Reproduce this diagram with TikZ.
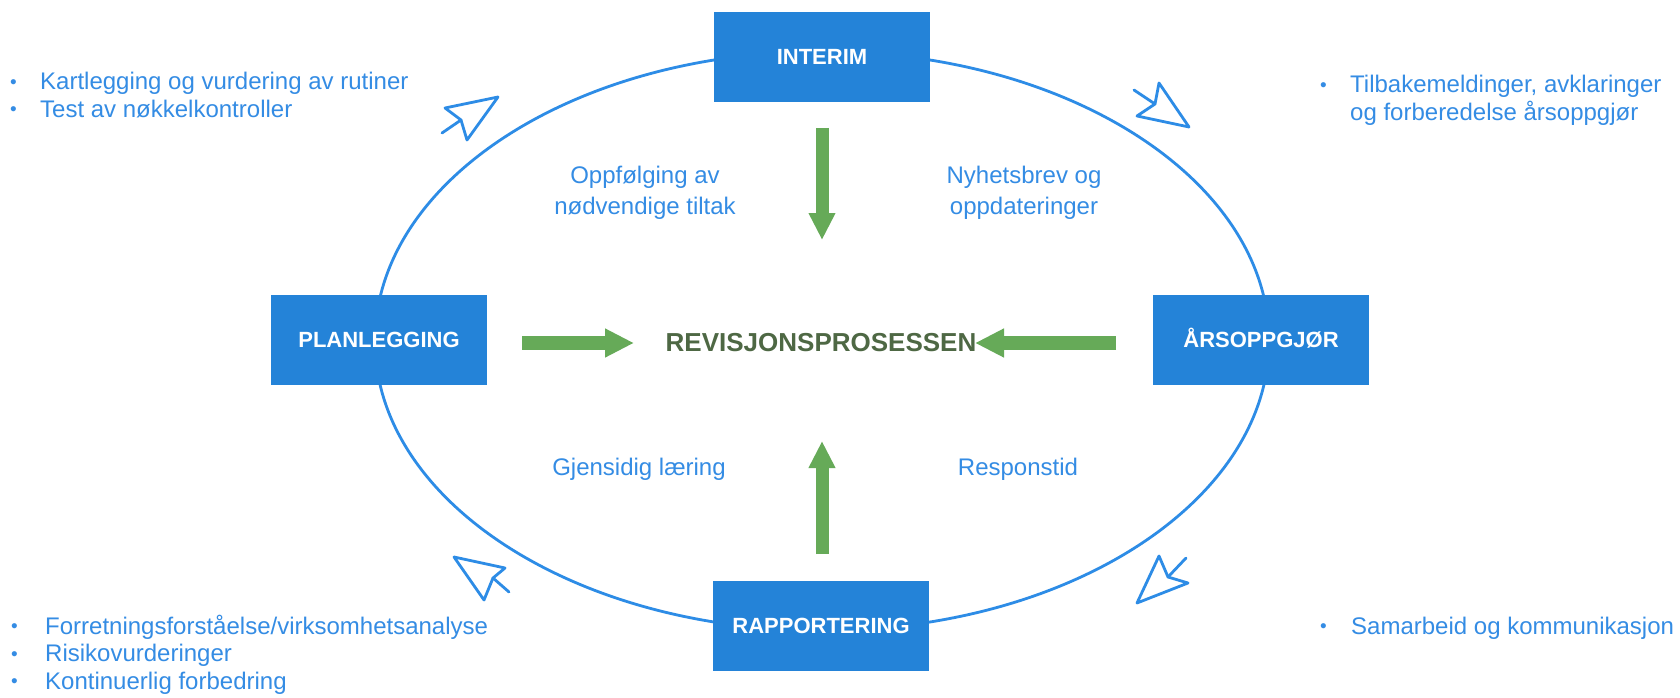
\documentclass[tikz,border=0pt]{standalone}
\usepackage{fontspec}
\setmainfont{Liberation Sans}
\usetikzlibrary{arrows.meta}
\definecolor{boxblue}{RGB}{36,131,216}
\definecolor{txtblue}{RGB}{52,140,228}
\definecolor{lineblue}{RGB}{45,140,230}
\definecolor{arrgreen}{RGB}{102,170,88}
\definecolor{centertxt}{RGB}{78,104,68}
\begin{document}
\begin{tikzpicture}[x=1pt,y=-1pt,
  phase/.style={fill=boxblue, text=white, minimum width=216pt, minimum height=90pt, inner sep=0pt,
    font=\fontsize{22}{26}\selectfont\bfseries, text height=15.8pt, text depth=0pt},
  lbl/.style={text=txtblue, font=\fontsize{24}{31}\selectfont, align=center, inner sep=0pt},
  bul/.style={text=txtblue, font=\fontsize{24}{27.5}\selectfont, anchor=base west, inner sep=0pt},
  flow/.style={draw=arrgreen, line width=13pt, -{Triangle[length=27pt,width=25pt]}},
  hflow/.style={draw=arrgreen, line width=14pt, -{Triangle[length=29pt,width=27pt]}},
  hint/.style={draw=lineblue, line width=2.8pt, line join=round, line cap=round}
]
\useasboundingbox (0,0) rectangle (1680,698);
\fill[white] (0,0) rectangle (1680,698);

% cycle ellipse
\draw[lineblue, line width=2.8pt] (822,341) ellipse [x radius=447pt, y radius=289.5pt];

% phase boxes
\node[phase] (interim) at (822,57) {INTERIM};
\node[phase] (plan) at (379,340) {PLANLEGGING};
\node[phase] (aars) at (1261,340) {ÅRSOPPGJØR};
\node[phase] (rapp) at (821,626) {RAPPORTERING};

% centre
\node[text=centertxt, font=\fontsize{26}{30}\selectfont\bfseries, inner sep=0pt] (rev) at (821,343) {REVISJONSPROSESSEN};

% green arrows
\coordinate (dA) at (822,128);
\coordinate (dB) at (822,240);
\coordinate (uA) at (822,554);
\coordinate (uB) at (822,441);
\coordinate (lA) at (522,343);
\coordinate (lB) at (634,343);
\coordinate (rA) at (1116,343);
\coordinate (rB) at (975,343);
\draw[flow] (dA) -- (dB);
\draw[flow] (uA) -- (uB);
\draw[hflow] (lA) -- (lB);
\draw[hflow] (rA) -- (rB);

% inner labels
\node[lbl] (opp) at (645,193) {Oppfølging av\\nødvendige tiltak};
\node[lbl] (nyh) at (1024,193) {Nyhetsbrev og\\oppdateringer};
\node[lbl] (gje) at (639,469) {Gjensidig læring};
\node[lbl] (res) at (1018,469) {Responstid};

% open hint arrows
\coordinate (tlT) at (442,133); \coordinate (tlN) at (461,120);
\coordinate (tlA) at (445,108); \coordinate (tlP) at (498,97); \coordinate (tlB) at (467,140);
\draw[hint] (tlT) -- (tlN);
\draw[hint] (tlN) -- (tlA) -- (tlP) -- (tlB) -- cycle;

\coordinate (trT) at (1134,90); \coordinate (trN) at (1155,104);
\coordinate (trA) at (1159,83); \coordinate (trP) at (1189,127); \coordinate (trB) at (1137,116);
\draw[hint] (trT) -- (trN);
\draw[hint] (trN) -- (trA) -- (trP) -- (trB) -- cycle;

\coordinate (blT) at (509,592); \coordinate (blN) at (493,578);
\coordinate (blA) at (505,568); \coordinate (blP) at (454,557); \coordinate (blB) at (484,600);
\draw[hint] (blT) -- (blN);
\draw[hint] (blN) -- (blA) -- (blP) -- (blB) -- cycle;

\coordinate (brT) at (1186,558); \coordinate (brN) at (1168,577);
\coordinate (brA) at (1159,556); \coordinate (brP) at (1137,603); \coordinate (brB) at (1188,583);
\draw[hint] (brT) -- (brN);
\draw[hint] (brN) -- (brA) -- (brP) -- (brB) -- cycle;

% bullet lists
\newcommand{\bdot}{\raisebox{1.5pt}{\fontsize{19}{19}\selectfont\textbullet}}
\node[bul] (tl) at (10,90) {\begin{tabular}[t]{@{}p{30pt}@{}l@{}}\bdot & Kartlegging og vurdering av rutiner\\ \bdot & Test av nøkkelkontroller\end{tabular}};
\node[bul] (tr) at (1320,93) {\begin{tabular}[t]{@{}p{30pt}@{}l@{}}\bdot & Tilbakemeldinger, avklaringer\\ & og forberedelse årsoppgjør\end{tabular}};
\node[bul] (bl) at (11,634) {\begin{tabular}[t]{@{}p{34pt}@{}l@{}}\bdot & Forretningsforståelse/virksomhetsanalyse\\ \bdot & Risikovurderinger\\ \bdot & Kontinuerlig forbedring\end{tabular}};
\node[bul] (br) at (1320,634) {\begin{tabular}[t]{@{}p{31pt}@{}l@{}}\bdot & Samarbeid og kommunikasjon\end{tabular}};
\end{tikzpicture}
\end{document}
